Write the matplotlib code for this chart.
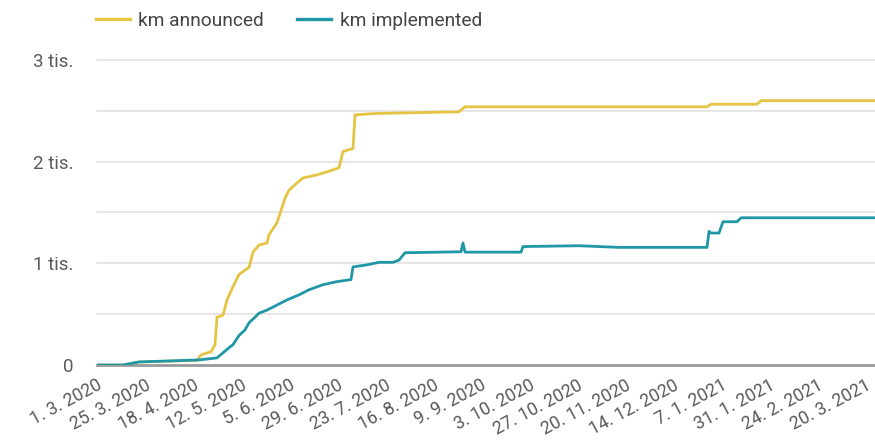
import matplotlib
matplotlib.use("Agg")
import matplotlib.pyplot as plt
import pandas as pd

plt.rcParams['font.family'] = ['Roboto', 'DejaVu Sans']

# --- data -------------------------------------------------------------
announced_dates = [
    "2020-03-01", "2020-03-14", "2020-03-22", "2020-04-20", "2020-04-22",
    "2020-04-27", "2020-04-29", "2020-04-30", "2020-05-03", "2020-05-05",
    "2020-05-08", "2020-05-11", "2020-05-16", "2020-05-18", "2020-05-21",
    "2020-05-25", "2020-05-26", "2020-05-30", "2020-06-03", "2020-06-05",
    "2020-06-09", "2020-06-12", "2020-06-19", "2020-06-24", "2020-06-30",
    "2020-07-02", "2020-07-07", "2020-07-08", "2020-07-15", "2020-07-20",
    "2020-08-29", "2020-09-01", "2020-12-31", "2021-01-02", "2021-01-25",
    "2021-01-27", "2021-03-25",
]
announced_km = [
    0, 0, 30, 45, 100,
    130, 200, 470, 490, 640,
    770, 890, 960, 1110, 1180,
    1200, 1280, 1400, 1640, 1720,
    1790, 1840, 1870, 1900, 1940,
    2100, 2130, 2460, 2470, 2475,
    2490, 2540, 2540, 2565, 2565,
    2600, 2600,
]

implemented_dates = [
    "2020-03-01", "2020-03-14", "2020-03-22", "2020-04-21", "2020-04-30",
    "2020-05-03", "2020-05-06", "2020-05-08", "2020-05-11", "2020-05-14",
    "2020-05-16", "2020-05-19", "2020-05-21", "2020-05-25", "2020-05-30",
    "2020-06-04", "2020-06-10", "2020-06-15", "2020-06-22", "2020-06-29",
    "2020-07-06", "2020-07-07", "2020-07-14", "2020-07-20", "2020-07-27",
    "2020-07-30", "2020-08-02", "2020-08-30", "2020-08-31", "2020-09-01",
    "2020-09-29", "2020-09-30", "2020-10-28", "2020-11-17", "2020-12-31",
    "2021-01-01", "2021-01-02", "2021-01-06", "2021-01-08", "2021-01-15",
    "2021-01-17", "2021-03-25",
]
implemented_km = [
    0, 0, 30, 50, 70,
    120, 170, 200, 290, 345,
    415, 470, 510, 540, 590,
    640, 690, 740, 790, 820,
    840, 965, 985, 1010, 1010,
    1032, 1104, 1114, 1200, 1110,
    1110, 1165, 1173, 1157, 1157,
    1315, 1298, 1298, 1409, 1409,
    1448, 1448,
]

tick_dates = [
    "2020-03-01", "2020-03-25", "2020-04-18", "2020-05-12", "2020-06-05",
    "2020-06-29", "2020-07-23", "2020-08-16", "2020-09-09", "2020-10-03",
    "2020-10-27", "2020-11-20", "2020-12-14", "2021-01-07", "2021-01-31",
    "2021-02-24", "2021-03-20",
]
tick_labels = [
    "1. 3. 2020", "25. 3. 2020", "18. 4. 2020", "12. 5. 2020", "5. 6. 2020",
    "29. 6. 2020", "23. 7. 2020", "16. 8. 2020", "9. 9. 2020", "3. 10. 2020",
    "27. 10. 2020", "20. 11. 2020", "14. 12. 2020", "7. 1. 2021", "31. 1. 2021",
    "24. 2. 2021", "20. 3. 2021",
]
y_ticks = [0, 1000, 2000, 3000]
y_tick_labels = ["0", "1 tis.", "2 tis.", "3 tis."]
y_grid = [500, 1500, 2500]

series_names = ["km announced", "km implemented"]
colors = ["#E6C443", "#1F97A6"]

# --- figure -----------------------------------------------------------
fig = plt.figure(figsize=(8.75, 4.4), dpi=100)
ax = fig.add_axes([97 / 875, 1 - 365 / 440, 1 - 97 / 875, (365 - 60) / 440])

ax.plot(pd.to_datetime(announced_dates), announced_km, color=colors[0],
        lw=2.0, label=series_names[0], zorder=3)
ax.plot(pd.to_datetime(implemented_dates), implemented_km, color=colors[1],
        lw=2.0, label=series_names[1], zorder=3)

ax.set_xlim(pd.Timestamp("2020-03-01"), pd.Timestamp("2021-03-25"))
ax.set_ylim(0, 3000)

ax.set_yticks(y_ticks)
ax.set_yticklabels(y_tick_labels)
for v in y_ticks[1:] + y_grid:
    ax.axhline(v, color="#e4e4e4", lw=1.3, zorder=1, clip_on=False)

ax.set_xticks(pd.to_datetime(tick_dates))
ax.set_xticklabels(tick_labels, rotation=28, ha="right", va="top",
                   rotation_mode="anchor")

ax.tick_params(axis="both", length=0, colors="#5a5a5a")
ax.tick_params(axis="y", pad=17, labelsize=13.5)
ax.tick_params(axis="x", pad=8, labelsize=12.8)

for s in ["top", "right", "left"]:
    ax.spines[s].set_visible(False)
ax.spines["bottom"].set_color("#9a9a9a")
ax.spines["bottom"].set_linewidth(2.0)
ax.spines["bottom"].set_zorder(2)

leg = fig.legend(loc="upper left", bbox_to_anchor=(96 / 875, 1 - 12 / 440),
                 ncol=2, frameon=False, fontsize=13.8, handlelength=1.75,
                 handletextpad=0.45, columnspacing=1.75, borderpad=0,
                 borderaxespad=0)
for t in leg.get_texts():
    t.set_color("#444444")
for h in leg.get_lines():
    h.set_linewidth(2.4)

fig.savefig("out.png", dpi=100)
